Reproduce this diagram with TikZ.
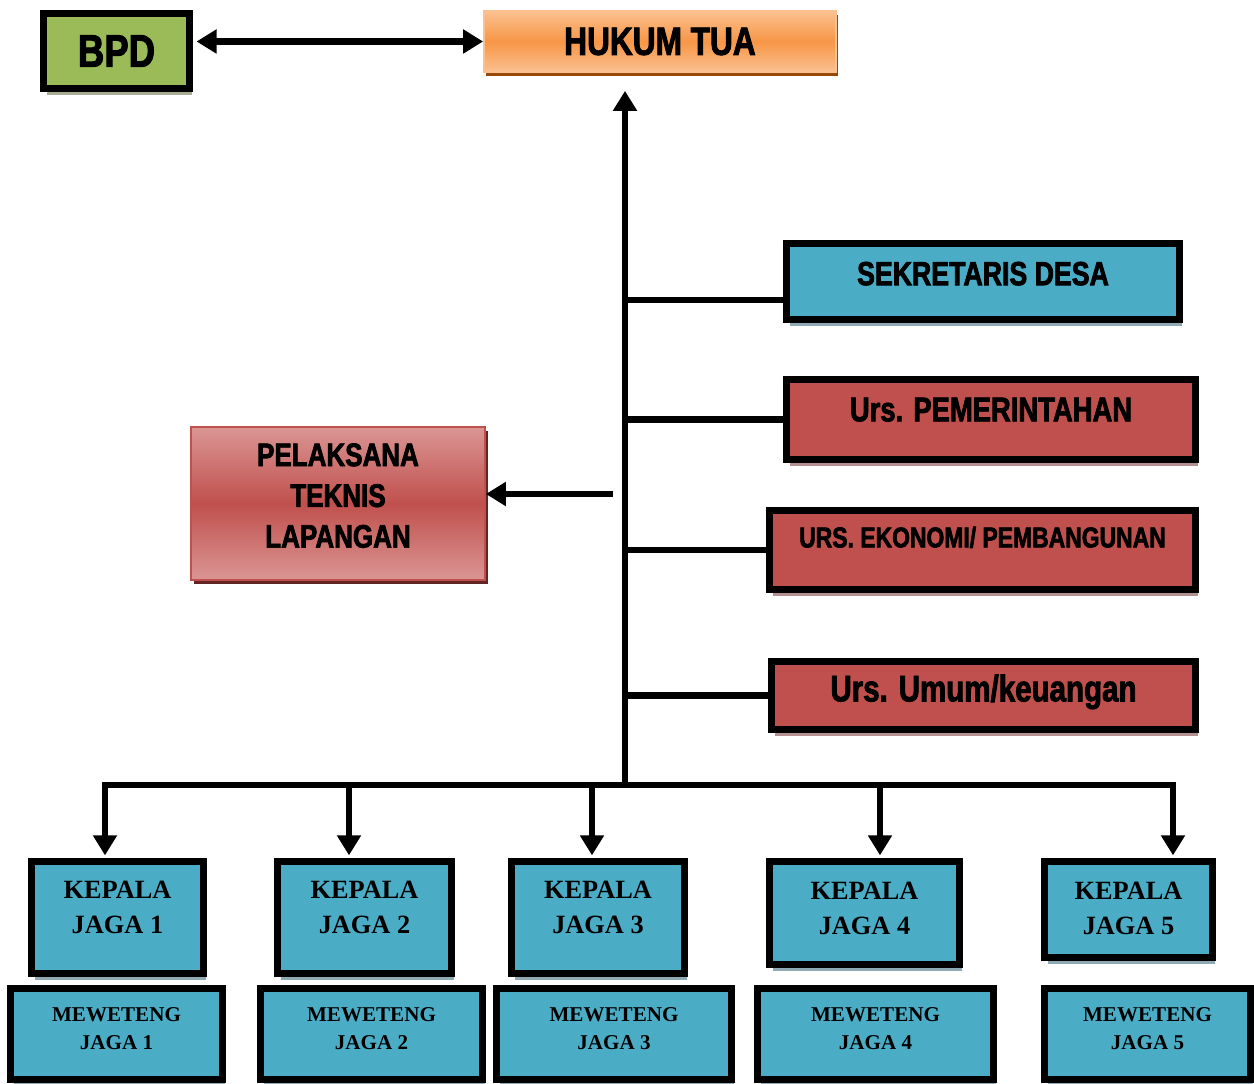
\documentclass[tikz,border=0pt]{standalone}
\usepackage{fontspec}
\newfontfamily\boxfont{Liberation Sans Bold}[FakeStretch=0.8,FakeBold=2.2]
\newfontfamily\jagafont{Liberation Serif}
\usetikzlibrary{shapes,arrows.meta,positioning,calc,shadows}

\tikzset{
  unitbox/.style={rectangle, draw=black, line width=4pt, inner sep=0pt, align=center},
  greenbox/.style={unitbox, fill=bpdgreen, drop shadow={shadow xshift=0.06cm, shadow yshift=-0.13cm, fill=greenshade, opacity=1}},
  bluebox/.style={unitbox, fill=desablue, drop shadow={shadow xshift=0.06cm, shadow yshift=-0.13cm, fill=blueshade, opacity=1}},
  redbox/.style={unitbox, fill=urusred, drop shadow={shadow xshift=0.06cm, shadow yshift=-0.13cm, fill=redshade, opacity=1}},
  sansbold/.style 2 args={font=\boxfont\fontsize{#1}{#2}\selectfont},
  serifbold/.style 2 args={font=\jagafont\bfseries\fontsize{#1}{#2}\selectfont},
  lift/.style={text depth=#1},
  link/.style={line width=3.6pt, line cap=rect},
  arrow/.style={link, -{Triangle[length=0.4cm, width=0.46cm]}}
}

\begin{document}
\begin{tikzpicture}[x=0.02cm, y=-0.02cm]
        \definecolor{bpdgreen}{RGB}{155,187,89}
        \definecolor{greenshade}{RGB}{166,173,146}
        \definecolor{desablue}{RGB}{75,172,198}
        \definecolor{blueshade}{RGB}{143,170,180}
        \definecolor{urusred}{RGB}{192,80,77}
        \definecolor{redshade}{RGB}{180,144,144}
        \definecolor{orangemain}{RGB}{247,150,70}
        \definecolor{orangelight}{RGB}{250,192,144}
        \definecolor{orangeshade}{RGB}{152,72,7}
        \definecolor{roselight}{RGB}{218,150,148}
        \definecolor{roseshade}{RGB}{99,37,35}

        \useasboundingbox (0,0) rectangle (1254,1084);

        % top row
        \node[greenbox, minimum width=2.92cm, minimum height=1.5cm, sansbold={26}{30}] (bpd) at (116.5,51) {BPD};
        \node[rectangle, inner sep=0pt, draw=orangelight, line width=1pt, top color=orangelight, bottom color=orangelight, middle color=orangemain, minimum width=7.04cm, minimum height=1.22cm, sansbold={22.5}{26}, drop shadow={shadow xshift=0.04cm, shadow yshift=-0.09cm, fill=orangeshade, opacity=1}] (huk) at (660,41.5) {HUKUM TUA};

        % staff on the right
        \node[bluebox, minimum width=7.86cm, minimum height=1.52cm, sansbold={19}{23}, lift=0.32cm] (sek) at (983,281.5) {SEKRETARIS DESA};
        \node[redbox, minimum width=8.18cm, minimum height=1.6cm, sansbold={19.5}{23}, lift=0.4cm] (pem) at (991,419.5) {Urs. PEMERINTAHAN};
        \node[redbox, minimum width=8.52cm, minimum height=1.58cm, sansbold={16.3}{20}, lift=0.52cm] (eko) at (982.5,550) {URS. EKONOMI/ PEMBANGUNAN};
        \node[redbox, minimum width=8.48cm, minimum height=1.36cm, sansbold={21}{25}, lift=0.3cm] (umum) at (983.5,695.5) {Urs. Umum/keuangan};

        % field staff on the left
        \node[rectangle, inner sep=0pt, align=center, draw=urusred, line width=1pt, top color=roselight, bottom color=roselight, middle color=urusred, minimum width=5.88cm, minimum height=3.06cm, sansbold={18.5}{23.2}, lift=0.32cm, drop shadow={shadow xshift=0.06cm, shadow yshift=-0.08cm, fill=roseshade, opacity=1}] (pel) at (338,503.5) {PELAKSANA\\TEKNIS\\LAPANGAN};

        % kepala jaga
        \node[bluebox, minimum width=3.44cm, minimum height=2.24cm, serifbold={15}{20}, lift=0.4cm] (kj1) at (117.5,917.5) {KEPALA\\JAGA 1};
        \node[bluebox, minimum width=3.48cm, minimum height=2.24cm, serifbold={15}{20}, lift=0.4cm] (kj2) at (364.5,917.5) {KEPALA\\JAGA 2};
        \node[bluebox, minimum width=3.46cm, minimum height=2.24cm, serifbold={15}{20}, lift=0.4cm] (kj3) at (598,917.5) {KEPALA\\JAGA 3};
        \node[bluebox, minimum width=3.8cm, minimum height=2.06cm, serifbold={15}{20}, lift=0.2cm] (kj4) at (864.5,913) {KEPALA\\JAGA 4};
        \node[bluebox, minimum width=3.36cm, minimum height=1.92cm, serifbold={15}{20}, lift=0.05cm] (kj5) at (1128.5,909.5) {KEPALA\\JAGA 5};

        % meweteng jaga
        \node[bluebox, minimum width=4.24cm, minimum height=1.82cm, serifbold={12}{15.5}, lift=0.22cm] (mj1) at (116.5,1034) {MEWETENG\\JAGA 1};
        \node[bluebox, minimum width=4.44cm, minimum height=1.82cm, serifbold={12}{15.5}, lift=0.22cm] (mj2) at (371.5,1034) {MEWETENG\\JAGA 2};
        \node[bluebox, minimum width=4.7cm, minimum height=1.82cm, serifbold={12}{15.5}, lift=0.22cm] (mj3) at (614,1034) {MEWETENG\\JAGA 3};
        \node[bluebox, minimum width=4.72cm, minimum height=1.82cm, serifbold={12}{15.5}, lift=0.22cm] (mj4) at (875.5,1034) {MEWETENG\\JAGA 4};
        \node[bluebox, minimum width=4.12cm, minimum height=1.82cm, serifbold={12}{15.5}, lift=0.22cm] (mj5) at (1147.5,1034) {MEWETENG\\JAGA 5};

        % connectors
        \draw[link, {Triangle[length=0.4cm, width=0.46cm]}-{Triangle[length=0.4cm, width=0.46cm]}, shorten <=2pt] (huk.west -| bpd.east) -- (huk.west);

        \coordinate (hub) at (625,785);
        \draw[arrow, shorten >=0.36cm] (hub) -- (hub |- huk.south);

        \coordinate (sekjoin) at ([yshift=-0.37cm]sek.west);
        \draw[link] (hub |- sekjoin) -- (sekjoin);
        \foreach \n in {pem,eko,umum}
            \draw[link] (hub |- \n.west) -- (\n.west);

        \coordinate (pelfrom) at (610,494);
        \draw[arrow] (pelfrom) -- (pelfrom -| pel.east);

        \foreach \k/\x in {1/105,2/349,3/592,4/880,5/1173}
            \coordinate (d\k) at (\x,785);
        \draw[link] (d1) -- (d5);
        \foreach \k in {1,...,5}
            \draw[arrow, shorten >=1.5pt] (d\k) -- (d\k |- kj\k.north);
    \end{tikzpicture}
\end{document}
